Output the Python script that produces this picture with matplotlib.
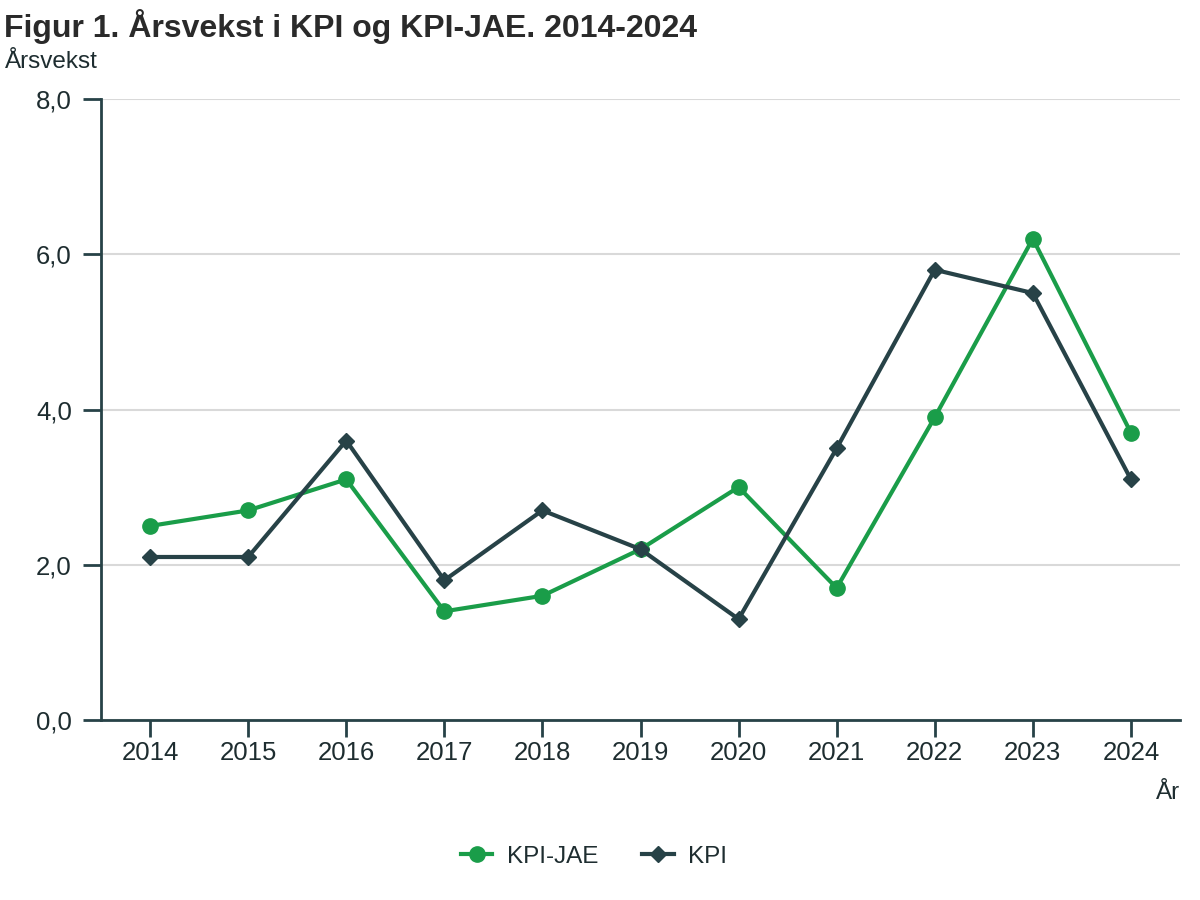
import matplotlib.pyplot as plt
import numpy as np

plt.rcParams['font.family'] = ['Liberation Sans', 'DejaVu Sans']

years = [2014, 2015, 2016, 2017, 2018, 2019, 2020, 2021, 2022, 2023, 2024]
kpi_jae = [2.5, 2.7, 3.1, 1.4, 1.6, 2.2, 3.0, 1.7, 3.9, 6.2, 3.7]
kpi = [2.1, 2.1, 3.6, 1.8, 2.7, 2.2, 1.3, 3.5, 5.8, 5.5, 3.1]
y_ticks = [0, 2, 4, 6, 8]

green = '#1a9d49'
dark = '#274247'
text_c = '#1e2d30'

fig = plt.figure(figsize=(12, 9), dpi=100)
ax = fig.add_axes([0.0842, 0.2, 0.8991, 0.69])

ax.plot(years, kpi_jae, color=green, lw=3, marker='o', ms=11,
        label='KPI-JAE', zorder=3)
ax.plot(years, kpi, color=dark, lw=3, marker='D', ms=8,
        label='KPI', zorder=4)

ax.set_xlim(2013.5, 2024.5)
ax.set_ylim(0, 8)
ax.set_xticks(years)
ax.set_yticks(y_ticks)
ax.set_yticklabels([f'{v:.1f}'.replace('.', ',') for v in y_ticks])
ax.tick_params(axis='both', labelsize=18.5, colors=dark, labelcolor=text_c,
               width=2, length=13)
ax.tick_params(axis='y', pad=8)
ax.tick_params(axis='x', length=12, pad=3)
ax.grid(axis='y', color='#d9d9d9', lw=1.5, zorder=0)
ax.set_axisbelow(True)

for s in ['top', 'right']:
    ax.spines[s].set_visible(False)
for s in ['left', 'bottom']:
    ax.spines[s].set_color(dark)
    ax.spines[s].set_linewidth(2)

fig.text(0.003, 0.99, 'Figur 1. Årsvekst i KPI og KPI-JAE. 2014-2024',
         fontsize=23, fontweight='bold', color='#2a2a2a', va='top', ha='left')
fig.text(0.004, 0.931, 'Årsvekst', fontsize=17.5, color=text_c,
         va='center', ha='left')
fig.text(0.983, 0.119, 'År', fontsize=17.5, color=text_c,
         va='center', ha='right')

fig.legend(loc='center', bbox_to_anchor=(0.495, 0.048), ncol=2, frameon=False,
           fontsize=17.5, labelcolor=text_c, handlelength=1.3,
           columnspacing=1.8, handletextpad=0.6)

fig.savefig('out.png', dpi=100, facecolor='white')
